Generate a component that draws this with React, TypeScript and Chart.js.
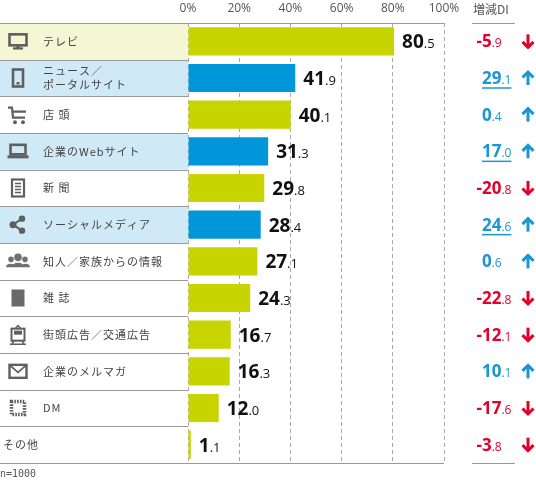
import { useEffect, useRef } from "react";
import { Chart, registerables } from "chart.js";

Chart.register(...registerables);

const categories = [
  "テレビ",
  "ニュース／\nポータルサイト",
  "店 頭",
  "企業のWebサイト",
  "新 聞",
  "ソーシャルメディア",
  "知人／家族からの情報",
  "雑 誌",
  "街頭広告／交通広告",
  "企業のメルマガ",
  "DM",
  "その他",
];
const shares = [80.5, 41.9, 40.1, 31.3, 29.8, 28.4, 27.1, 24.3, 16.7, 16.3, 12.0, 1.1];
const diValues = [-5.9, 29.1, 0.4, 17.0, -20.8, 24.6, 0.6, -22.8, -12.1, 10.1, -17.6, -3.8];
const tickValues = [0, 20, 40, 60, 80, 100];
const sampleNote = "n=1000";
const diHeader = "増減DI";

// rows with blue background / blue bar / underlined DI
const blueRows = [1, 3, 5];
const topRow = 0;

const GREEN = "#c8d400";
const BLUE = "#0097da";
const RED = "#e3002b";
const DI_BLUE = "#1a96d4";
const JP = "'Noto Sans CJK JP', sans-serif";
const NUM = "'Open Sans', sans-serif";
const GRAY_ICON = "#5f5f5f";

function drawIcon(ctx: CanvasRenderingContext2D, i: number, cx: number, cy: number) {
  ctx.save();
  ctx.strokeStyle = GRAY_ICON;
  ctx.fillStyle = GRAY_ICON;
  ctx.lineWidth = 2.6;
  ctx.beginPath();
  switch (i) {
    case 0: // tv
      ctx.strokeRect(cx - 8.5, cy - 7, 17, 11);
      ctx.fillRect(cx - 1.5, cy + 4, 3, 3);
      ctx.fillRect(cx - 5, cy + 6, 10, 2.2);
      break;
    case 1: // phone
      ctx.strokeRect(cx - 5, cy - 8.5, 10, 17);
      ctx.fillRect(cx - 1.5, cy + 4, 3, 2.5);
      break;
    case 2: // cart
      ctx.lineWidth = 2.2;
      ctx.moveTo(cx - 10, cy - 7);
      ctx.lineTo(cx - 6, cy - 7);
      ctx.lineTo(cx - 5, cy + 3);
      ctx.lineTo(cx + 7, cy + 3);
      ctx.moveTo(cx - 5.5, cy - 3);
      ctx.lineTo(cx + 8, cy - 3);
      ctx.stroke();
      ctx.beginPath();
      ctx.arc(cx - 3, cy + 7.5, 2, 0, Math.PI * 2);
      ctx.arc(cx + 5, cy + 7.5, 2, 0, Math.PI * 2);
      ctx.fill();
      break;
    case 3: // laptop
      ctx.strokeRect(cx - 7.5, cy - 6.5, 15, 9.5);
      ctx.fillRect(cx - 10.5, cy + 4, 21, 3);
      break;
    case 4: // newspaper
      ctx.lineWidth = 2.2;
      ctx.strokeRect(cx - 6, cy - 8.5, 12, 17);
      ctx.lineWidth = 1.3;
      for (let k = 0; k < 4; k++) {
        ctx.moveTo(cx - 3, cy - 4.5 + k * 3);
        ctx.lineTo(cx + 3, cy - 4.5 + k * 3);
      }
      ctx.stroke();
      break;
    case 5: // share
      ctx.lineWidth = 2;
      ctx.moveTo(cx + 4, cy - 6);
      ctx.lineTo(cx - 5, cy);
      ctx.lineTo(cx + 4, cy + 6);
      ctx.stroke();
      ctx.beginPath();
      ctx.arc(cx + 4, cy - 6, 3.2, 0, Math.PI * 2);
      ctx.moveTo(cx - 1.5, cy);
      ctx.arc(cx - 5, cy, 3.5, 0, Math.PI * 2);
      ctx.moveTo(cx + 7.2, cy + 6);
      ctx.arc(cx + 4, cy + 6, 3.2, 0, Math.PI * 2);
      ctx.fill();
      break;
    case 6: // people
      ctx.fillStyle = "#707070";
      ctx.arc(cx, cy - 4, 3.8, 0, Math.PI * 2);
      ctx.fill();
      ctx.beginPath();
      ctx.arc(cx - 7, cy - 2, 2.8, 0, Math.PI * 2);
      ctx.arc(cx + 7, cy - 2, 2.8, 0, Math.PI * 2);
      ctx.fill();
      ctx.beginPath();
      ctx.ellipse(cx, cy + 6, 6.5, 4.5, 0, Math.PI, 0);
      ctx.ellipse(cx - 7.5, cy + 6, 4.5, 3.5, 0, Math.PI, 0);
      ctx.ellipse(cx + 7.5, cy + 6, 4.5, 3.5, 0, Math.PI, 0);
      ctx.fill();
      break;
    case 7: // magazine
      ctx.fillStyle = "#6a6a6a";
      ctx.fillRect(cx - 6.5, cy - 8.5, 13, 17);
      break;
    case 8: // train
      ctx.lineWidth = 2;
      ctx.strokeRect(cx - 6.5, cy - 6, 13, 12);
      ctx.fillRect(cx - 4, cy - 4, 8, 4);
      ctx.lineWidth = 1.5;
      ctx.moveTo(cx - 3, cy - 6);
      ctx.lineTo(cx, cy - 9);
      ctx.lineTo(cx + 3, cy - 6);
      ctx.moveTo(cx - 8, cy + 9.5);
      ctx.lineTo(cx + 8, cy + 9.5);
      ctx.moveTo(cx - 4, cy + 6);
      ctx.lineTo(cx - 6, cy + 9.5);
      ctx.moveTo(cx + 4, cy + 6);
      ctx.lineTo(cx + 6, cy + 9.5);
      ctx.stroke();
      break;
    case 9: // mail
      ctx.lineWidth = 2.4;
      ctx.strokeRect(cx - 8.5, cy - 6.5, 17, 13);
      ctx.lineWidth = 1.8;
      ctx.moveTo(cx - 8, cy - 6);
      ctx.lineTo(cx, cy + 1);
      ctx.lineTo(cx + 8, cy - 6);
      ctx.stroke();
      break;
    case 10: // stamp
      ctx.lineWidth = 3.5;
      ctx.setLineDash([1.6, 1.2]);
      ctx.strokeRect(cx - 6.5, cy - 6.5, 13, 13);
      ctx.setLineDash([]);
      ctx.fillStyle = "#fff";
      ctx.fillRect(cx - 4, cy - 4, 8, 8);
      break;
    default:
      break;
  }
  ctx.restore();
}

function drawSplitNumber(
  ctx: CanvasRenderingContext2D,
  value: number,
  x: number,
  y: number,
  bigSize: number,
  smallSize: number,
  color: string
) {
  const [intPart, decPart] = Math.abs(value).toFixed(1).split(".");
  ctx.fillStyle = color;
  ctx.textAlign = "left";
  ctx.textBaseline = "alphabetic";
  ctx.font = `700 ${bigSize}px ${NUM}`;
  ctx.fillText(intPart, x, y);
  const w1 = ctx.measureText(intPart).width;
  ctx.font = `400 ${smallSize}px ${NUM}`;
  ctx.fillText("." + decPart, x + w1, y);
  return w1 + ctx.measureText("." + decPart).width;
}

const tablePlugin = {
  id: "table",
  beforeDraw(chart: Chart) {
    const { ctx, chartArea } = chart;
    const n = categories.length;
    const h = (chartArea.bottom - chartArea.top) / n;
    ctx.save();
    for (let i = 0; i < n; i++) {
      const top = chartArea.top + i * h;
      if (i === topRow) {
        ctx.fillStyle = "#f5f6d3";
        ctx.fillRect(0, top, chartArea.left, h);
      } else if (blueRows.includes(i)) {
        ctx.fillStyle = "#d0e9f6";
        ctx.fillRect(0, top, chartArea.left, h);
      }
    }
    ctx.strokeStyle = "#999";
    ctx.lineWidth = 1;
    ctx.beginPath();
    for (let i = 1; i < n; i++) {
      const y = Math.round(chartArea.top + i * h) + 0.5;
      ctx.moveTo(0, y);
      ctx.lineTo(chartArea.left, y);
    }
    const t = Math.round(chartArea.top) + 0.5;
    const b = Math.round(chartArea.bottom) + 0.5;
    ctx.moveTo(0, t);
    ctx.lineTo(chartArea.right, t);
    ctx.moveTo(0, b);
    ctx.lineTo(chartArea.right, b);
    ctx.moveTo(472, t);
    ctx.lineTo(515, t);
    ctx.moveTo(472, b);
    ctx.lineTo(515, b);
    ctx.stroke();
    ctx.restore();
  },
  afterDatasetsDraw(chart: Chart) {
    const { ctx, chartArea } = chart;
    const meta = chart.getDatasetMeta(0);
    const yScale = chart.scales.y;
    ctx.save();
    categories.forEach((label, i) => {
      const cy = yScale.getPixelForValue(i);
      // icon + label
      drawIcon(ctx, i, 18, cy);
      ctx.fillStyle = "#444";
      ctx.font = `400 11px ${JP}`;
      ctx.textAlign = "left";
      ctx.textBaseline = "middle";
      (ctx as any).letterSpacing = "1px";
      const lines = label.split("\n");
      const lx = i === categories.length - 1 ? 3 : 43;
      lines.forEach((ln, k) => {
        ctx.fillText(ln, lx, cy + (k - (lines.length - 1) / 2) * 14);
      });
      (ctx as any).letterSpacing = "0px";

      // value label
      const bar = meta.data[i] as any;
      drawSplitNumber(ctx, shares[i], bar.x + 8, cy + 7, 19, 13, "#111");

      // DI
      const di = diValues[i];
      const col = di < 0 ? RED : DI_BLUE;
      const base = cy + 6;
      if (di < 0) {
        ctx.font = `700 17px ${NUM}`;
        ctx.fillStyle = col;
        ctx.textAlign = "right";
        ctx.textBaseline = "alphabetic";
        ctx.fillText("-", 482, base);
      }
      const w = drawSplitNumber(ctx, di, 482, base, 17, 12, col);
      if (blueRows.includes(i)) {
        ctx.strokeStyle = col;
        ctx.lineWidth = 1.5;
        ctx.beginPath();
        ctx.moveTo(482, base + 4);
        ctx.lineTo(482 + w, base + 4);
        ctx.stroke();
      }
      // arrow
      const ax = 528;
      const dir = di < 0 ? 1 : -1;
      ctx.strokeStyle = col;
      ctx.lineWidth = 3;
      ctx.lineCap = "butt";
      ctx.lineJoin = "miter";
      ctx.beginPath();
      ctx.moveTo(ax, cy - 7 * dir);
      ctx.lineTo(ax, cy + 5 * dir);
      ctx.stroke();
      ctx.beginPath();
      ctx.moveTo(ax - 5.5, cy + 0.5 * dir);
      ctx.lineTo(ax, cy + 6 * dir);
      ctx.lineTo(ax + 5.5, cy + 0.5 * dir);
      ctx.stroke();
    });

    // header
    ctx.fillStyle = "#555";
    ctx.font = `400 12px ${JP}`;
    ctx.textAlign = "left";
    ctx.textBaseline = "alphabetic";
    ctx.fillText(diHeader, 473, 14);

    // note
    ctx.font = "400 10px 'DejaVu Sans Mono', monospace";
    ctx.fillText(sampleNote, 0, chartArea.bottom + 14);
    ctx.restore();
  },
};

export default function App() {
  const canvasRef = useRef<HTMLCanvasElement>(null);
  const chartRef = useRef<Chart | null>(null);

  useEffect(() => {
    document.body.style.margin = "0";
    if (!canvasRef.current) return;
    if (chartRef.current) chartRef.current.destroy();

    chartRef.current = new Chart(canvasRef.current, {
      type: "bar",
      data: {
        labels: categories,
        datasets: [
          {
            data: shares,
            backgroundColor: shares.map((_, i) => (blueRows.includes(i) ? BLUE : GREEN)),
            barPercentage: 0.77,
            categoryPercentage: 1,
          },
        ],
      },
      options: {
        indexAxis: "y",
        animation: false,
        responsive: true,
        maintainAspectRatio: false,
        layout: { padding: { left: 188, right: 92, top: 0, bottom: 17 } },
        plugins: {
          legend: { display: false },
          tooltip: { enabled: false },
        },
        scales: {
          x: {
            position: "top",
            min: 0,
            max: 100,
            afterBuildTicks: (s: any) => {
              s.ticks = tickValues.map((v) => ({ value: v }));
            },
            afterFit: (s: any) => {
              s.height = 23;
            },
            ticks: {
              callback: (v: any) => v + "%",
              color: "#555",
              font: { family: "'Open Sans', sans-serif", size: 12 },
              padding: 7,
            },
            grid: { color: "#aaa", drawTicks: false, lineWidth: 1 },
            border: { display: false, dash: [4, 3] },
          },
          y: { display: false },
        },
      },
      plugins: [tablePlugin],
    });

    return () => {
      if (chartRef.current) {
        chartRef.current.destroy();
        chartRef.current = null;
      }
    };
  }, []);

  return (
    <div style={{ width: "536px", height: "480px", position: "relative" }}>
      <canvas ref={canvasRef} />
    </div>
  );
}
